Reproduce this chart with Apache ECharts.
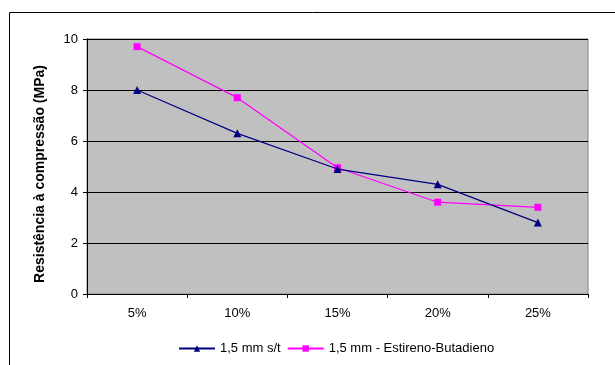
<!DOCTYPE html>
<html>
<head>
<meta charset="utf-8">
<script src="https://cdn.jsdelivr.net/npm/echarts@6/dist/echarts.min.js"></script>
<style>
  html, body { margin: 0; padding: 0; background: #fff; }
  #chart { width: 615px; height: 365px; }
</style>
</head>
<body>
<div id="chart"></div>
<script>
const categories = ['5%', '10%', '15%', '20%', '25%']
const semTratamento = [8.0, 6.3, 4.9, 4.3, 2.8]
const estirenoButadieno = [9.7, 7.7, 4.95, 3.6, 3.4]
const yTicks = [0, 2, 4, 6, 8, 10]

const chart = echarts.init(document.getElementById('chart'))

const font = 'Liberation Sans, Arial, sans-serif'

const option = {
  animation: false,
  backgroundColor: '#fff',
  graphic: [
    {
      type: 'rect',
      shape: { x: 9.5, y: 12.5, width: 620, height: 400 },
      style: { fill: 'none', stroke: '#000', lineWidth: 1 },
      z: 0
    }
  ],
  grid: {
    left: 87,
    top: 39,
    width: 501,
    height: 255,
    show: true,
    backgroundColor: '#c0c0c0',
    borderColor: '#808080',
    borderWidth: 1
  },
  legend: {
    bottom: 5,
    left: 173,
    itemWidth: 36,
    itemHeight: 8,
    itemGap: 6,
    textStyle: { fontFamily: font, fontSize: 13, color: '#000' },
    data: ['1,5 mm s/t', '1,5 mm - Estireno-Butadieno']
  },
  xAxis: {
    type: 'category',
    data: categories,
    boundaryGap: true,
    axisLine: { show: true, lineStyle: { color: '#000', width: 1 } },
    axisTick: { show: true, alignWithLabel: false, length: 4, lineStyle: { color: '#000' } },
    axisLabel: { fontFamily: font, fontSize: 13, color: '#000', margin: 13 },
    splitLine: { show: false }
  },
  yAxis: {
    type: 'value',
    min: yTicks[0],
    max: yTicks[yTicks.length - 1],
    interval: 2,
    name: 'Resistência à compressão (MPa)',
    nameLocation: 'middle',
    nameGap: 40,
    nameTextStyle: { fontFamily: font, fontSize: 14, fontWeight: 'bold', color: '#000', padding: [0, 15, 0, 0] },
    axisLine: { show: true, lineStyle: { color: '#000', width: 1 } },
    axisTick: { show: true, length: 4, lineStyle: { color: '#000' } },
    axisLabel: { fontFamily: font, fontSize: 13, color: '#000', margin: 9 },
    splitLine: { show: true, lineStyle: { color: '#000', width: 1 } }
  },
  series: [
    {
      name: '1,5 mm s/t',
      type: 'line',
      data: semTratamento,
      symbol: 'triangle',
      symbolSize: 8,
      lineStyle: { color: '#000080', width: 1.2 },
      itemStyle: { color: '#000080' },
      z: 3
    },
    {
      name: '1,5 mm - Estireno-Butadieno',
      type: 'line',
      data: estirenoButadieno,
      symbol: 'rect',
      symbolSize: 7,
      lineStyle: { color: '#ff00ff', width: 1.2 },
      itemStyle: { color: '#ff00ff' },
      z: 2
    }
  ]
}

chart.setOption(option)
</script>
</body>
</html>
